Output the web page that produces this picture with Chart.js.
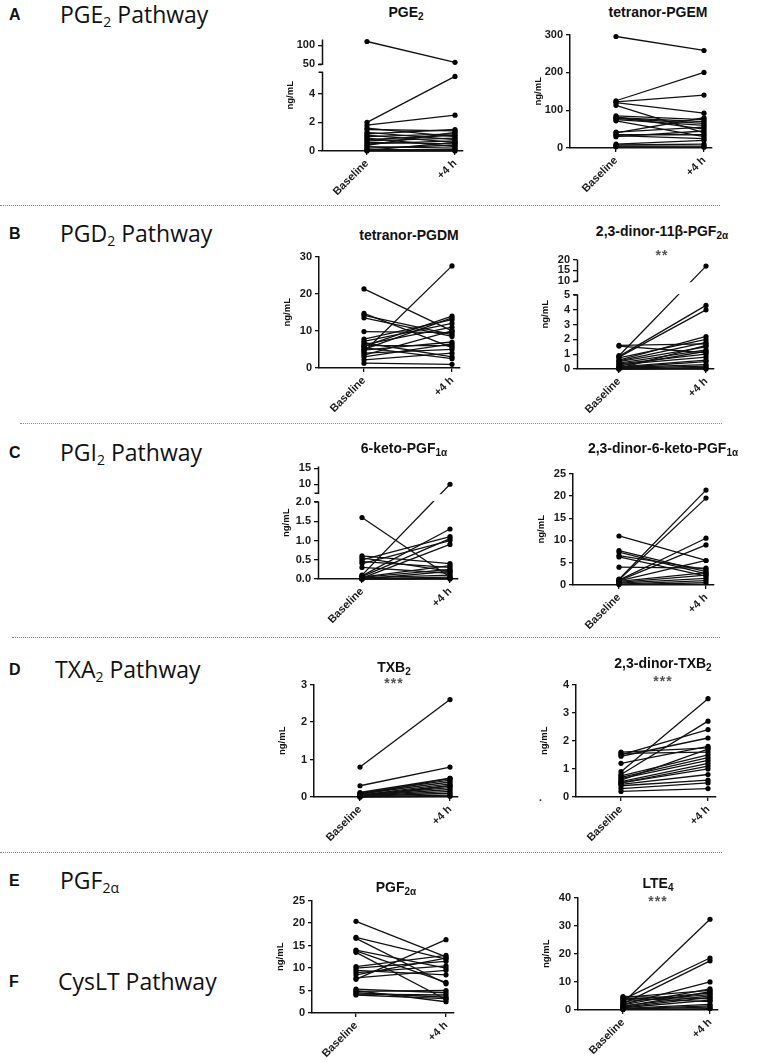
<!DOCTYPE html>
<html lang="pt-BR">
<head>
<meta charset="utf-8">
<title>Eicosanoides - Baseline vs +4 h</title>
<script src="https://cdn.jsdelivr.net/npm/chart.js@4.4.1/dist/chart.umd.min.js"></script>
<style>
  body { margin: 0; background: #fff; }
  #pagina { position: relative; width: 760px; height: 1062px; overflow: hidden; font-family: "Liberation Sans", Arial, sans-serif; }
  .letra { position: absolute; font-weight: bold; font-size: 16px; line-height: 20px; color: #111; }
  .via { position: absolute; font-family: "Open Sans", Lato, sans-serif; font-size: 23px; line-height: 26px; color: #111; white-space: nowrap; }
  .via sub { font-size: 14px; vertical-align: -4px; line-height: 0; }
  .separador { position: absolute; height: 0; border-top: 1px dotted #888; }
  .titulo { position: absolute; width: 240px; text-align: center; font-weight: bold; font-size: 14px; line-height: 16px; color: #111; white-space: nowrap; }
  .titulo sub { font-size: 10px; vertical-align: -3px; line-height: 0; }
  .sig { position: absolute; width: 60px; text-align: center; font-weight: bold; font-size: 14px; line-height: 12px; color: #555; letter-spacing: 1px; }
  canvas { position: absolute; }
</style>
</head>
<body>
<div id="pagina"></div>
<script>
// Rótulos do eixo X (comuns a todos os gráficos)
const rotulosX = ['Baseline', '+4 h'];

// A - PGE2
const pge2Baseline = [110, 2.0, 1.8, 1.6, 1.5, 1.3, 1.2, 1.1, 1.0, 0.9, 0.8, 0.7, 0.6, 0.5, 0.4, 0.3, 0.2, 0.1, 0.05, 0.0];
const pge2Mais4h   = [55, 5.2, 2.5, 1.0, 1.4, 0.8, 1.5, 0.6, 1.2, 0.3, 1.1, 0.9, 0.5, 0.7, 1.3, 0.2, 0.4, 0.1, 0.6, 0.0];
const pge2Ticks = [0, 2, 4, 50, 100];

// A - tetranor-PGEM
const pgemBaseline = [295, 125, 122, 120, 113, 85, 82, 80, 78, 75, 72, 42, 40, 35, 33, 30, 10, 8, 5, 3];
const pgemMais4h   = [258, 200, 140, 92, 40, 75, 50, 70, 65, 60, 30, 55, 80, 35, 25, 45, 20, 10, 5, 2];
const pgemTicks = [0, 100, 200, 300];

// B - tetranor-PGDM
const pgdmBaseline = [21.3, 14.7, 14.2, 13.5, 9.8, 7.8, 7.2, 6.8, 6.3, 6.0, 5.8, 5.5, 5.0, 4.8, 4.4, 4.0, 3.5, 3.0, 2.2, 1.3];
const pgdmMais4h   = [10.0, 5.5, 9.0, 8.5, 9.5, 13.0, 12.0, 3.0, 11.0, 6.0, 14.0, 2.5, 13.5, 7.0, 27.5, 5.0, 10.0, 6.5, 4.0, 1.0];
const pgdmTicks = [0, 10, 20, 30];

// B - 2,3-dinor-11beta-PGF2alfa
const dinorPgfBaseline = [1.6, 1.55, 0.9, 0.85, 0.8, 0.75, 0.6, 0.55, 0.5, 0.4, 0.35, 0.3, 0.2, 0.15, 0.1, 0.1, 0.05, 0.05, 0.0, 0.0];
const dinorPgfMais4h   = [1.7, 1.1, 17, 4.3, 4.0, 2.0, 2.2, 1.8, 1.5, 1.3, 1.0, 0.8, 1.2, 0.6, 0.5, 0.3, 1.6, 0.2, 0.1, 0.0];
const dinorPgfTicks = [0, 1, 2, 3, 4, 5, 10, 15, 20];

// C - 6-keto-PGF1alfa
const ketoBaseline = [1.6, 0.6, 0.55, 0.5, 0.45, 0.4, 0.3, 0.1, 0.08, 0.06, 0.05, 0.04, 0.03, 0.02, 0.01, 0.0, 0.0, 0.0];
const ketoMais4h   = [0.05, 0.4, 0.2, 1.1, 0.3, 1.0, 0.15, 10, 1.3, 1.05, 0.35, 0.25, 0.1, 0.9, 0.05, 0.2, 0.0, 0.02];
const ketoTicks = [0, 0.5, 1, 1.5, 2, 10, 15];
const ketoRotulos = ['0.0', '0.5', '1.0', '1.5', '2.0', '10', '15'];

// C - 2,3-dinor-6-keto-PGF1alfa
const dinorKetoBaseline = [11.0, 7.7, 7.4, 6.6, 6.3, 4.0, 1.3, 1.2, 1.1, 1.0, 0.9, 0.8, 0.6, 0.4, 0.2, 0.1];
const dinorKetoMais4h   = [5.5, 3.0, 2.5, 3.5, 2.0, 3.8, 21.3, 19.5, 10.5, 9.0, 5.5, 2.8, 2.2, 1.5, 1.0, 0.5];
const dinorKetoTicks = [0, 5, 10, 15, 20, 25];

// D - TXB2
const txb2Baseline = [0.8, 0.3, 0.12, 0.1, 0.08, 0.07, 0.05, 0.05, 0.04, 0.03, 0.02, 0.02, 0.01, 0.0, 0.0];
const txb2Mais4h   = [2.6, 0.8, 0.5, 0.45, 0.4, 0.5, 0.35, 0.3, 0.25, 0.2, 0.15, 0.1, 0.05, 0.3, 0.02];
const txb2Ticks = [0, 1, 2, 3];

// D - 2,3-dinor-TXB2
const dinorTxbBaseline = [1.6, 1.55, 1.5, 1.45, 1.2, 0.9, 0.8, 0.75, 0.7, 0.65, 0.6, 0.55, 0.5, 0.5, 0.45, 0.4, 0.3, 0.2];
const dinorTxbMais4h   = [1.75, 1.6, 2.4, 2.1, 1.8, 3.5, 2.7, 1.5, 1.4, 1.3, 1.7, 1.2, 1.1, 1.0, 0.8, 0.6, 0.5, 0.3];
const dinorTxbTicks = [0, 1, 2, 3, 4];

// E - PGF2alfa
const pgf2aBaseline = [20.4, 16.8, 16.6, 14.0, 13.8, 13.5, 10.3, 10.0, 9.5, 9.0, 8.5, 7.8, 7.5, 5.3, 5.0, 4.8, 4.5, 4.2, 4.0];
const pgf2aMais4h   = [12.5, 12.0, 6.5, 10.0, 6.8, 3.0, 12.8, 11.5, 8.5, 10.5, 12.2, 9.5, 16.3, 4.5, 2.5, 5.0, 3.5, 4.0, 3.2];
const pgf2aTicks = [0, 5, 10, 15, 20, 25];

// F - LTE4
const lte4Baseline = [4.8, 4.5, 4.2, 3.8, 3.5, 3.0, 2.6, 2.2, 2.0, 1.8, 1.5, 1.2, 1.0, 0.8, 0.6, 0.4, 0.3, 0.2];
const lte4Mais4h   = [4.0, 7.0, 3.0, 18.5, 6.0, 5.5, 32.3, 17.5, 10.0, 7.5, 5.0, 6.5, 4.5, 3.5, 2.0, 1.5, 1.0, 0.5];
const lte4Ticks = [0, 10, 20, 30, 40];

// Configuração de cada painel (posições em pixels na página)
const paineis = [
    { titulo: 'PGE<sub>2</sub>', cx: 406, ty: 12, base: pge2Baseline, mais4h: pge2Mais4h, ticks: pge2Ticks, max: 115,
      quebra: { baixoMax: 5.5, altoMin: 50, pBaixo: 71, pAlto: 63 }, axisX: 322, y0: 151, yTop: 38, xB: 367, x4: 455 },
    { titulo: 'tetranor-PGEM', cx: 658, ty: 12, base: pgemBaseline, mais4h: pgemMais4h, ticks: pgemTicks,
      axisX: 570, y0: 148, yTop: 33, xB: 616, x4: 704 },
    { titulo: 'tetranor-PGDM', cx: 409, ty: 235, base: pgdmBaseline, mais4h: pgdmMais4h, ticks: pgdmTicks,
      axisX: 319, y0: 368, yTop: 255, xB: 364, x4: 452 },
    { titulo: '2,3-dinor-11β-PGF<sub>2α</sub>', cx: 662, ty: 231, sig: '**', sy: 253, base: dinorPgfBaseline, mais4h: dinorPgfMais4h, ticks: dinorPgfTicks, max: 20,
      quebra: { baixoMax: 5, altoMin: 10, pBaixo: 294, pAlto: 280 }, axisX: 577, y0: 369, yTop: 258, xB: 619, x4: 706 },
    { titulo: '6-keto-PGF<sub>1α</sub>', cx: 404, ty: 448, base: ketoBaseline, mais4h: ketoMais4h, ticks: ketoTicks, rotulos: ketoRotulos, max: 15.5,
      quebra: { baixoMax: 2, altoMin: 7.2, pBaixo: 501, pAlto: 492 }, axisX: 318, y0: 579, yTop: 465, xB: 362, x4: 450 },
    { titulo: '2,3-dinor-6-keto-PGF<sub>1α</sub>', cx: 663, ty: 448, base: dinorKetoBaseline, mais4h: dinorKetoMais4h, ticks: dinorKetoTicks,
      axisX: 573, y0: 585, yTop: 472, xB: 619, x4: 706 },
    { titulo: 'TXB<sub>2</sub>', cx: 394, ty: 667, sig: '***', sy: 681, base: txb2Baseline, mais4h: txb2Mais4h, ticks: txb2Ticks,
      axisX: 314, y0: 797, yTop: 683, xB: 360, x4: 450 },
    { titulo: '2,3-dinor-TXB<sub>2</sub>', cx: 663, ty: 663, sig: '***', sy: 679, base: dinorTxbBaseline, mais4h: dinorTxbMais4h, ticks: dinorTxbTicks,
      axisX: 576, y0: 797, yTop: 683, xB: 621, x4: 708 },
    { titulo: 'PGF<sub>2α</sub>', cx: 396, ty: 887, base: pgf2aBaseline, mais4h: pgf2aMais4h, ticks: pgf2aTicks,
      axisX: 312, y0: 1013, yTop: 899, xB: 356, x4: 446 },
    { titulo: 'LTE<sub>4</sub>', cx: 658, ty: 883, sig: '***', sy: 899, base: lte4Baseline, mais4h: lte4Mais4h, ticks: lte4Ticks,
      axisX: 578, y0: 1010, yTop: 896, xB: 623, x4: 710 }
];

// Textos da coluna da esquerda
const letras = [
    { t: 'A', y: 15, via: 'PGE<sub>2</sub> Pathway', vx: 60 },
    { t: 'B', y: 234, via: 'PGD<sub>2</sub> Pathway', vx: 60 },
    { t: 'C', y: 453, via: 'PGI<sub>2</sub> Pathway', vx: 60 },
    { t: 'D', y: 670, via: 'TXA<sub>2</sub> Pathway', vx: 55 },
    { t: 'E', y: 881, via: 'PGF<sub>2α</sub>', vx: 60 },
    { t: 'F', y: 982, via: 'CysLT Pathway', vx: 58 }
];

const separadores = [
    { y: 205, x1: 0, x2: 720 },
    { y: 423, x1: 20, x2: 722 },
    { y: 637, x1: 12, x2: 720 },
    { y: 852, x1: 0, x2: 722 }
];

const pagina = document.getElementById('pagina');
const fonteBase = '"Liberation Sans", Arial, sans-serif';

// Escala linear com quebra no eixo Y
class EscalaQuebrada extends Chart.LinearScale {
    static id = 'quebrada';
    static defaults = Chart.LinearScale.defaults;

    getPixelForValue(valor) {
        const q = this.options.quebra;
        const H = this.bottom - this.top;
        const hBaixo = H * q.fracBaixo;
        const hVao = H * q.fracVao;
        const hAlto = H - hBaixo - hVao;
        if (valor <= q.baixoMax) {
            return this.bottom - (valor - this.min) / (q.baixoMax - this.min) * hBaixo;
        }
        if (valor >= q.altoMin) {
            return this.top + (this.max - valor) / (this.max - q.altoMin) * hAlto;
        }
        return this.bottom - hBaixo - (valor - q.baixoMax) / (q.altoMin - q.baixoMax) * hVao;
    }

    getValueForPixel(pixel) {
        const q = this.options.quebra;
        const H = this.bottom - this.top;
        const hBaixo = H * q.fracBaixo;
        const hVao = H * q.fracVao;
        const hAlto = H - hBaixo - hVao;
        const d = this.bottom - pixel;
        if (d <= hBaixo) return this.min + d / hBaixo * (q.baixoMax - this.min);
        if (d >= hBaixo + hVao) return q.altoMin + (d - hBaixo - hVao) / hAlto * (this.max - q.altoMin);
        return q.baixoMax + (d - hBaixo) / hVao * (q.altoMin - q.baixoMax);
    }
}
Chart.register(EscalaQuebrada);

// Plugin que desenha o eixo Y quebrado e apaga o trecho das linhas dentro do vão
const eixoQuebrado = {
    id: 'eixoQuebrado',
    afterDatasetsDraw(chart) {
        const y = chart.scales.y;
        if (y.type !== 'quebrada') return;
        const q = y.options.quebra;
        const area = chart.chartArea;
        const pBaixo = y.getPixelForValue(q.baixoMax);
        const pAlto = y.getPixelForValue(q.altoMin);
        const ctx = chart.ctx;
        ctx.save();
        ctx.fillStyle = '#fff';
        ctx.fillRect(area.left + 1, pAlto + 1, area.right - area.left, pBaixo - pAlto - 2);
        const x = Math.round(area.left) + 0.5;
        ctx.strokeStyle = '#111';
        ctx.lineWidth = 1.5;
        ctx.beginPath();
        ctx.moveTo(x, y.bottom);
        ctx.lineTo(x, pBaixo);
        ctx.lineTo(x - 4, pBaixo);
        ctx.moveTo(x - 4, pAlto);
        ctx.lineTo(x, pAlto);
        ctx.lineTo(x, y.top);
        ctx.stroke();
        ctx.restore();
    }
};

// Função para criar um painel (gráfico Baseline vs +4 h)
function criarPainel(p) {
    const padTop = 8, largY = 40, altX = 55, padDir = 12;
    const direita = p.x4 + 8;
    const w = largY + (direita - p.axisX) + padDir;
    const h = padTop + (p.y0 - p.yTop) + altX;

    const canvas = document.createElement('canvas');
    canvas.width = w;
    canvas.height = h;
    canvas.style.left = (p.axisX - largY) + 'px';
    canvas.style.top = (p.yTop - padTop) + 'px';
    canvas.style.width = w + 'px';
    canvas.style.height = h + 'px';
    pagina.appendChild(canvas);

    // Título e significância
    const titulo = document.createElement('div');
    titulo.className = 'titulo';
    titulo.innerHTML = p.titulo;
    titulo.style.left = (p.cx - 120) + 'px';
    titulo.style.top = (p.ty - 8) + 'px';
    pagina.appendChild(titulo);
    if (p.sig) {
        const sig = document.createElement('div');
        sig.className = 'sig';
        sig.textContent = p.sig;
        sig.style.left = (p.cx - 30) + 'px';
        sig.style.top = (p.sy - 4) + 'px';
        pagina.appendChild(sig);
    }

    const passo = p.x4 - p.xB;
    const alturaEixo = p.y0 - p.yTop;
    const maximo = p.max !== undefined ? p.max : p.ticks[p.ticks.length - 1];

    const grade = { display: true, drawOnChartArea: false, drawTicks: true, tickLength: 4, color: '#111', lineWidth: 1.3 };

    const escalaY = {
        type: p.quebra ? 'quebrada' : 'linear',
        min: p.ticks[0],
        max: maximo,
        grid: grade,
        border: { display: !p.quebra, color: '#111', width: 1.5 },
        ticks: {
            autoSkip: false,
            padding: 3,
            color: '#1a1a1a',
            font: { family: fonteBase, weight: 'bold', size: 11 },
            callback: (v, i) => p.rotulos ? p.rotulos[i] : String(v)
        },
        title: {
            display: true,
            text: 'ng/mL',
            color: '#111',
            font: { family: fonteBase, weight: 'bold', size: 9.5 },
            padding: { top: 3, bottom: 3 }
        },
        afterBuildTicks: s => { s.ticks = p.ticks.map(v => ({ value: v })); },
        afterFit: s => { s.width = largY; }
    };
    if (p.quebra) {
        escalaY.quebra = {
            baixoMax: p.quebra.baixoMax,
            altoMin: p.quebra.altoMin,
            fracBaixo: (p.y0 - p.quebra.pBaixo) / alturaEixo,
            fracVao: (p.quebra.pBaixo - p.quebra.pAlto) / alturaEixo
        };
    }

    new Chart(canvas.getContext('2d'), {
        type: 'line',
        data: {
            datasets: p.base.map((b, i) => ({
                data: [{ x: 0, y: b }, { x: 1, y: p.mais4h[i] }],
                borderColor: '#111',
                borderWidth: 1.3,
                pointRadius: 2.6,
                pointBackgroundColor: '#000',
                pointBorderWidth: 0,
                clip: false,
                tension: 0
            }))
        },
        options: {
            responsive: false,
            animation: false,
            events: [],
            layout: { autoPadding: false, padding: { top: padTop, right: padDir, left: 0, bottom: 0 } },
            plugins: { legend: { display: false }, tooltip: { enabled: false } },
            scales: {
                x: {
                    type: 'linear',
                    min: -(p.xB - p.axisX) / passo,
                    max: (direita - p.xB) / passo,
                    grid: grade,
                    border: { display: true, color: '#111', width: 1.5 },
                    ticks: {
                        autoSkip: false,
                        minRotation: 45,
                        maxRotation: 45,
                        padding: 2,
                        color: '#1a1a1a',
                        font: { family: fonteBase, weight: 'bold', size: 11 },
                        callback: (v, i) => rotulosX[i]
                    },
                    afterBuildTicks: s => { s.ticks = [{ value: 0 }, { value: 1 }]; },
                    afterFit: s => { s.height = altX; }
                },
                y: escalaY
            }
        },
        plugins: [eixoQuebrado]
    });
}

// Coluna da esquerda: letras, vias e separadores
function criarTextos() {
    letras.forEach(l => {
        const a = document.createElement('div');
        a.className = 'letra';
        a.textContent = l.t;
        a.style.left = '9px';
        a.style.top = (l.y - 10) + 'px';
        pagina.appendChild(a);
        const v = document.createElement('div');
        v.className = 'via';
        v.innerHTML = l.via;
        v.style.left = l.vx + 'px';
        v.style.top = (l.y - 14) + 'px';
        pagina.appendChild(v);
    });
    separadores.forEach(s => {
        const d = document.createElement('div');
        d.className = 'separador';
        d.style.left = s.x1 + 'px';
        d.style.top = s.y + 'px';
        d.style.width = (s.x2 - s.x1) + 'px';
        pagina.appendChild(d);
    });
    const ponto = document.createElement('div');
    ponto.className = 'letra';
    ponto.style.fontSize = '10px';
    ponto.textContent = '.';
    ponto.style.left = '539px';
    ponto.style.top = '788px';
    pagina.appendChild(ponto);
}

criarTextos();
paineis.forEach(criarPainel);
</script>
</body>
</html>
